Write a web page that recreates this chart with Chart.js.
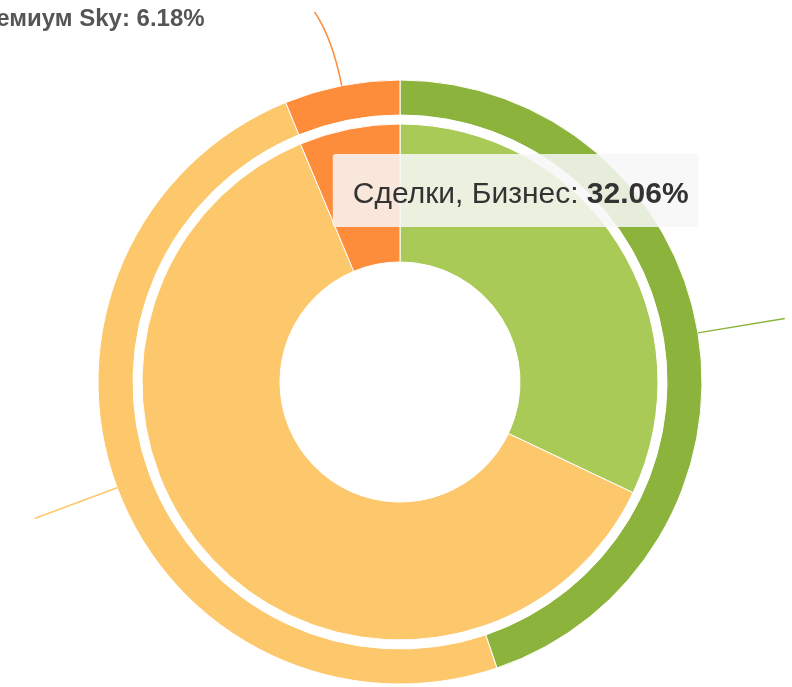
<!DOCTYPE html>
<html>
<head>
<meta charset="utf-8">
<script src="https://cdn.jsdelivr.net/npm/chart.js@4.4.1/dist/chart.umd.min.js"></script>
<style>
  html, body { margin: 0; padding: 0; background: #fff; }
</style>
</head>
<body>
<canvas id="donut" width="792" height="687"></canvas>
<script>
// shares in %, clockwise from 12 o'clock
const categories = ["Бизнес", "Стандарт", "Премиум Sky"];
const outerName = "Выручка";
const outerValues = [44.8, 49.02, 6.18];
const innerName = "Сделки";
const innerValues = [32.06, 61.64, 6.3];

const outerColors = ["#8cb33c", "#fdc86b", "#fd8c3b"];
const innerColors = ["#a9ca56", "#fdc86b", "#fd8c3b"];

const FONT = '"Liberation Sans", Arial, sans-serif';
const fmt = (v) => v.toFixed(2) + "%";

// data labels with connector lines for the outer ring
const pieLabels = {
  id: "pieLabels",
  afterDatasetsDraw(chart) {
    const ctx = chart.ctx;
    const meta = chart.getDatasetMeta(0);
    ctx.save();
    meta.data.forEach((arc, i) => {
      const p = arc.getProps(["x", "y", "startAngle", "endAngle", "outerRadius"], true);
      const mid = (p.startAngle + p.endAngle) / 2;
      const cos = Math.cos(mid), sin = Math.sin(mid);
      const r0 = p.outerRadius, r1 = r0 + 48, r2 = r0 + 88;
      const x0 = p.x + cos * r0, y0 = p.y + sin * r0;
      const x1 = p.x + cos * r1, y1 = p.y + sin * r1;
      let x2 = p.x + cos * r2, y2 = p.y + sin * r2;
      if (y2 < 12) { x2 -= (12 - y2) * 0.8; y2 = 12; }

      ctx.strokeStyle = outerColors[i];
      ctx.lineWidth = 1.5;
      ctx.beginPath();
      ctx.moveTo(x0, y0);
      ctx.quadraticCurveTo(x1, y1, x2, y2);
      ctx.stroke();

      ctx.fillStyle = "#555555";
      ctx.font = "bold 24px " + FONT;
      ctx.textBaseline = "middle";
      const text = categories[i] + ": " + fmt(outerValues[i]);
      if (cos < 0) {
        ctx.textAlign = "right";
        ctx.fillText(text, x2 - 110, y2 + 7);
      } else {
        ctx.textAlign = "left";
        ctx.fillText(text, x2 + 110, y2 + 7);
      }
    });
    ctx.restore();
  }
};

// hover tooltip shown over the inner "Бизнес" slice
const hoverBox = {
  id: "hoverBox",
  afterDraw(chart) {
    const ctx = chart.ctx;
    const arc = chart.getDatasetMeta(2).data[0];
    const pos = arc.tooltipPosition(true);
    const left = pos.x - 227, top = pos.y - 127;
    const name = innerName + ", " + categories[0] + ": ";
    const val = fmt(innerValues[0]);

    ctx.save();
    ctx.font = "30px " + FONT;
    const w1 = ctx.measureText(name).width;
    ctx.font = "bold 30px " + FONT;
    const w2 = ctx.measureText(val).width;
    const pad = 20;
    const w = w1 + w2 + pad + 10, h = 73;

    ctx.fillStyle = "rgba(247,247,247,0.85)";
    ctx.beginPath();
    ctx.roundRect(left, top, w, h, 3);
    ctx.fill();

    ctx.fillStyle = "#333333";
    ctx.textBaseline = "alphabetic";
    ctx.textAlign = "left";
    ctx.font = "30px " + FONT;
    ctx.fillText(name, left + pad, top + 49);
    ctx.font = "bold 30px " + FONT;
    ctx.fillText(val, left + pad + w1, top + 49);
    ctx.restore();
  }
};

new Chart(document.getElementById("donut"), {
  type: "doughnut",
  data: {
    labels: categories,
    datasets: [
      {
        label: outerName,
        data: outerValues,
        backgroundColor: outerColors,
        borderColor: "#ffffff",
        borderWidth: 1,
        weight: 35
      },
      {
        // white gap between the rings
        label: "",
        data: [100],
        backgroundColor: "rgba(0,0,0,0)",
        borderWidth: 0,
        weight: 9
      },
      {
        label: innerName,
        data: innerValues,
        backgroundColor: innerColors,
        borderColor: "#ffffff",
        borderWidth: 1,
        weight: 138
      }
    ]
  },
  options: {
    responsive: false,
    animation: false,
    radius: 302,
    cutout: "39.74%",
    layout: { padding: { top: 80, bottom: 3, left: 8, right: 0 } },
    plugins: {
      legend: { display: false },
      tooltip: { enabled: false }
    },
    events: []
  },
  plugins: [pieLabels, hoverBox]
});
</script>
</body>
</html>
